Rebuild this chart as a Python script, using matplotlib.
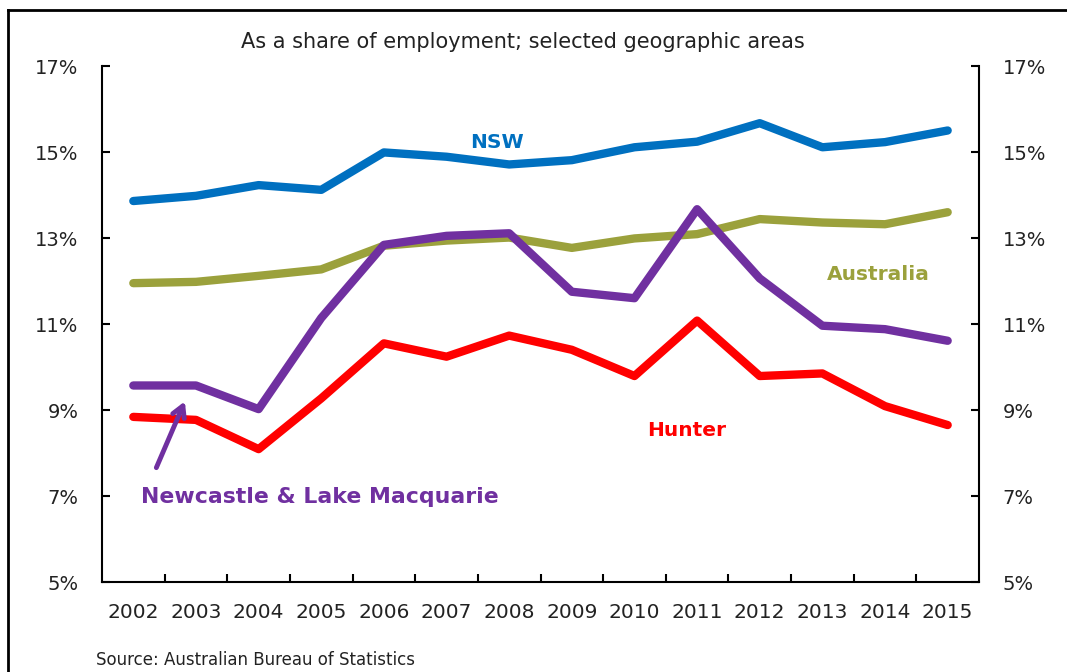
import numpy as np
import matplotlib.pyplot as plt
from matplotlib.lines import Line2D

# Datos (porcentaje del empleo)
anios = [2002, 2003, 2004, 2005, 2006, 2007, 2008, 2009, 2010, 2011, 2012, 2013, 2014, 2015]
nsw = [13.86, 13.98, 14.23, 14.12, 14.99, 14.89, 14.71, 14.81, 15.11, 15.24, 15.67, 15.11, 15.23, 15.50]
australia = [11.95, 11.98, 12.12, 12.27, 12.82, 12.94, 13.01, 12.77, 12.99, 13.09, 13.44, 13.36, 13.32, 13.60]
newcastle = [9.57, 9.57, 9.02, 11.14, 12.84, 13.05, 13.11, 11.75, 11.60, 13.67, 12.06, 10.96, 10.88, 10.61]
hunter = [8.84, 8.77, 8.09, 9.27, 10.55, 10.24, 10.73, 10.40, 9.79, 11.08, 9.79, 9.85, 9.09, 8.65]

y_ticks = [5, 7, 9, 11, 13, 15, 17]

c_nsw = '#0070C0'
c_aus = '#9BA13C'
c_new = '#7030A0'
c_hun = '#FF0000'

fig = plt.figure(figsize=(10.67, 6.72), dpi=100)
ax = fig.add_axes([102 / 1067, 1 - 582 / 672, (979 - 102) / 1067, (582 - 66) / 672])

x = np.arange(len(anios))
lw = 6
for serie, color in [(nsw, c_nsw), (australia, c_aus), (newcastle, c_new), (hunter, c_hun)]:
    ax.plot(x, serie, color=color, linewidth=lw, solid_capstyle='round')

ax.set_xlim(-0.5, len(anios) - 0.5)
ax.set_ylim(5, 17)
ax.set_yticks(y_ticks)
ax.set_yticklabels([f'{v}%' for v in y_ticks])
ax.set_xticks(x)
ax.set_xticklabels([str(a) for a in anios])
ax.set_xticks(np.arange(0.5, len(anios) - 1, 1), minor=True)

ax.spines['top'].set_visible(False)
for s in ['left', 'right', 'bottom']:
    ax.spines[s].set_linewidth(1.5)

ax.tick_params(axis='y', direction='in', left=True, right=True, labelleft=True,
               labelright=True, length=6, width=1.5, labelsize=14, pad=17, labelcolor='#222222')
ax.tick_params(axis='x', which='major', length=0, labelsize=14.5, pad=15, labelcolor='#222222')
ax.tick_params(axis='x', which='minor', direction='in', length=6, width=1.5)

# Etiquetas de las series
ax.text(5.81, 15.23, 'NSW', color=c_nsw, fontsize=14.5, fontweight='bold', ha='center', va='center')
ax.text(11.89, 12.16, 'Australia', color=c_aus, fontsize=14.5, fontweight='bold', ha='center', va='center')
ax.text(8.84, 8.53, 'Hunter', color=c_hun, fontsize=14.5, fontweight='bold', ha='center', va='center')
ax.text(2.98, 6.98, 'Newcastle & Lake Macquarie', color=c_new, fontsize=15.8, fontweight='bold',
        ha='center', va='center')
ax.annotate('', xy=(0.84, 9.26), xytext=(0.35, 7.60),
            arrowprops=dict(arrowstyle='->,head_length=0.8,head_width=0.45', color=c_new, lw=3.5))

fig.text(523 / 1067, 1 - 42 / 672, 'As a share of employment; selected geographic areas',
         fontsize=15, ha='center', va='center', color='#222222')
fig.text(96 / 1067, 1 - 660 / 672, 'Source: Australian Bureau of Statistics',
         fontsize=12, ha='left', va='center', color='#222222')

# Marco exterior (solo borde superior e izquierdo visibles)
y_top = 1 - 10 / 672
x_left = 8 / 1067
fig.add_artist(Line2D([x_left, 1], [y_top, y_top], color='black', linewidth=2))
fig.add_artist(Line2D([x_left, x_left], [0, y_top], color='black', linewidth=2))

fig.savefig('out.png', dpi=100)
